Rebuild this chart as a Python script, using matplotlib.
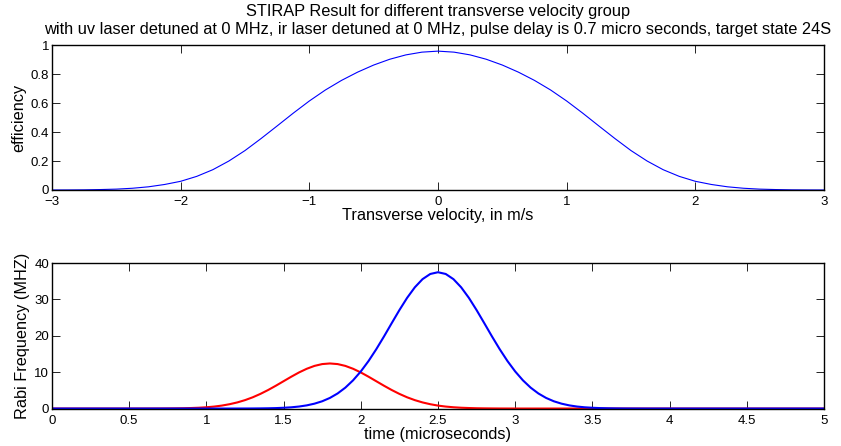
import matplotlib
matplotlib.use('Agg')
import matplotlib.pyplot as plt
import numpy as np

plt.rcParams['font.family'] = ['Liberation Sans', 'DejaVu Sans']

# top panel: efficiency vs transverse velocity
velocity = [-3.0, -2.875, -2.75, -2.625, -2.5, -2.375, -2.25, -2.125, -2.0,
            -1.875, -1.75, -1.625, -1.5, -1.375, -1.25, -1.125, -1.0,
            -0.875, -0.75, -0.625, -0.5, -0.375, -0.25, -0.125, 0.0,
            0.125, 0.25, 0.375, 0.5, 0.625, 0.75, 0.875, 1.0,
            1.125, 1.25, 1.375, 1.5, 1.625, 1.75, 1.875, 2.0,
            2.125, 2.25, 2.375, 2.5, 2.625, 2.75, 2.875, 3.0]
efficiency = [0.0, 0.0003, 0.001, 0.003, 0.006, 0.012, 0.022, 0.038, 0.060,
              0.094, 0.140, 0.200, 0.272, 0.355, 0.442, 0.530, 0.614,
              0.690, 0.756, 0.813, 0.862, 0.902, 0.932, 0.951, 0.958,
              0.951, 0.932, 0.902, 0.862, 0.813, 0.756, 0.690, 0.614,
              0.530, 0.442, 0.355, 0.272, 0.200, 0.140, 0.094, 0.060,
              0.038, 0.022, 0.012, 0.006, 0.003, 0.001, 0.0003, 0.0]

# bottom panel: pulses, sampled every 0.05 us from 0 to 5
time_us = np.linspace(0, 5, 101)
rabi_ir = ([0.0] * 10 +
           [0.001, 0.002, 0.004, 0.008, 0.015, 0.03, 0.05, 0.08, 0.14, 0.22,
            0.35, 0.54, 0.81, 1.19, 1.68, 2.31, 3.09, 4.03, 5.10, 6.28,
            7.52, 8.76, 9.93, 10.94, 11.73, 12.23, 12.40,
            12.23, 11.73, 10.94, 9.93, 8.76, 7.52, 6.28, 5.10, 4.03, 3.09,
            2.31, 1.68, 1.19, 0.81, 0.54, 0.35, 0.22, 0.14, 0.08, 0.05,
            0.03, 0.015, 0.008, 0.004, 0.002, 0.001] +
           [0.0] * 38)
rabi_uv = ([0.0] * 24 +
           [0.005, 0.01, 0.02, 0.04, 0.07, 0.12, 0.21, 0.34, 0.55, 0.87,
            1.34, 2.00, 2.92, 4.15, 5.75, 7.76, 10.20, 13.06, 16.30, 19.81,
            23.47, 27.08, 30.45, 33.35, 35.60, 37.02, 37.50,
            37.02, 35.60, 33.35, 30.45, 27.08, 23.47, 19.81, 16.30, 13.06,
            10.20, 7.76, 5.75, 4.15, 2.92, 2.00, 1.34, 0.87, 0.55, 0.34,
            0.21, 0.12, 0.07, 0.04, 0.02, 0.01, 0.005] +
           [0.0] * 24)

title1 = 'STIRAP Result for different transverse velocity group'
title2 = ('with uv laser detuned at 0 MHz, ir laser detuned at 0 MHz, '
          'pulse delay is 0.7 micro seconds, target state 24S')

fig = plt.figure(figsize=(8.41, 4.46), dpi=100, facecolor='white')

ax0 = fig.add_axes([0.0618, 0.574, 0.918, 0.325])
ax0.plot(velocity, efficiency, color=(0, 0, 1), lw=0.8)
ax0.set_xlim(-3, 3)
ax0.set_ylim(0, 1)
ax0.set_xticks([-3, -2, -1, 0, 1, 2, 3])
ax0.set_xticklabels(['\u22123', '\u22122', '\u22121', '0', '1', '2', '3'])
ax0.set_yticks([0, 0.2, 0.4, 0.6, 0.8, 1])
ax0.set_yticklabels(['0', '0.2', '0.4', '0.6', '0.8', '1'])
ax0.set_xlabel('Transverse velocity, in m/s', fontsize=11.7, labelpad=0)
ax0.set_ylabel('efficiency', fontsize=11.7, labelpad=3)
ax0.set_title(title1 + '\n' + title2, fontsize=11.8, pad=8, linespacing=1.25)

ax1 = fig.add_axes([0.0618, 0.084, 0.918, 0.326])
ax1.plot(time_us, rabi_ir, color=(1, 0, 0), lw=1.5)
ax1.plot(time_us, rabi_uv, color=(0, 0, 1), lw=1.5)
ax1.set_xlim(0, 5)
ax1.set_ylim(0, 40)
ax1.set_xticks([0, 0.5, 1, 1.5, 2, 2.5, 3, 3.5, 4, 4.5, 5])
ax1.set_xticklabels(['0', '0.5', '1', '1.5', '2', '2.5', '3', '3.5', '4', '4.5', '5'])
ax1.set_yticks([0, 10, 20, 30, 40])
ax1.set_xlabel('time (microseconds)', fontsize=11.7, labelpad=0)
ax1.set_ylabel('Rabi Frequency (MHZ)', fontsize=11.7, labelpad=3)

for ax in (ax0, ax1):
    ax.tick_params(direction='in', length=5.5, width=0.6, labelsize=9.5,
                   top=True, right=True, pad=2, colors='black')
    ax.tick_params(axis='x', pad=4.5)
    for s in ax.spines.values():
        s.set_linewidth(1.0)
        s.set_color('black')

fig.savefig('out.png', dpi=100)
